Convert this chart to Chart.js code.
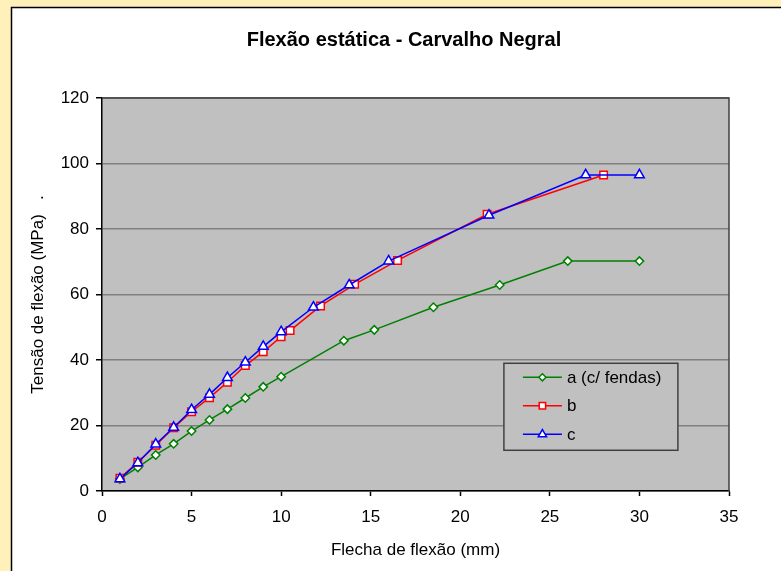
<!DOCTYPE html>
<html>
<head>
<meta charset="utf-8">
<script src="https://cdn.jsdelivr.net/npm/chart.js@4/dist/chart.umd.min.js"></script>
<style>
  html, body { margin: 0; padding: 0; background: #fff1b9; }
  #chart { display: block; }
</style>
</head>
<body>
<canvas id="chart" width="781" height="571"></canvas>
<script>
// ----------------------------------------------------------------------
//  Flexão estática - Carvalho Negral
// ----------------------------------------------------------------------
const titleText = "Flexão estática - Carvalho Negral"
const xTitle = "Flecha de flexão (mm)"
const yTitle = "Tensão de flexão (MPa)   ."

const seriesNames = ["a (c/ fendas)", "b", "c"]

const aX = [1, 2, 3, 4, 5, 6, 7, 8, 9, 10, 13.5, 15.2, 18.5, 22.2, 26, 30]
const aY = [3.7, 7.2, 11.0, 14.4, 18.3, 21.7, 25.0, 28.4, 31.8, 34.9, 45.9, 49.2, 56.1, 62.9, 70.2, 70.2]

const bX = [1, 2, 3, 4, 5, 6, 7, 8, 9, 10, 10.5, 12.2, 14.1, 16.5, 21.5, 28]
const bY = [3.9, 8.8, 14.0, 19.3, 24.2, 28.5, 33.2, 38.3, 42.5, 47.1, 49.0, 56.5, 63.1, 70.4, 84.5, 96.5]

const cX = [1, 2, 3, 4, 5, 6, 7, 8, 9, 10, 11.8, 13.8, 16, 21.6, 27, 30]
const cY = [3.7, 8.6, 14.3, 19.4, 24.8, 29.5, 34.6, 39.3, 44.1, 48.6, 56.1, 62.9, 70.2, 84.2, 96.5, 96.5]

const xMin = 0, xMax = 35, xStep = 5
const yMin = 0, yMax = 120, yStep = 20

// ----------------------------------------------------------------------
const FONT = "'Liberation Sans', Arial, sans-serif"

function pts (xs, ys)
{
    return xs.map((x, i) => ({x: x, y: ys[i]}))
}

function series (label, xs, ys, color, style, radius, order)
{
    return {
        label: label,
        data: pts(xs, ys),
        order: order,
        showLine: true,
        borderColor: color,
        borderWidth: 1.5,
        tension: 0,
        pointStyle: style,
        pointRadius: radius,
        pointHoverRadius: radius,
        pointBackgroundColor: "#ffffff",
        pointBorderColor: color,
        pointBorderWidth: 1.5
        }
}

const frame = {
    id: "frame",
    beforeDraw (chart)
    {
        const ctx = chart.ctx
        const a = chart.chartArea
        ctx.save()
        ctx.fillStyle = "#fff1b9"
        ctx.fillRect(0, 0, chart.width, chart.height)
        ctx.fillStyle = "#ffffff"
        ctx.fillRect(11, 7, chart.width, chart.height)
        ctx.strokeStyle = "#000000"
        ctx.lineWidth = 1.5
        ctx.beginPath()
        ctx.moveTo(11.5, chart.height)
        ctx.lineTo(11.5, 7.5)
        ctx.lineTo(chart.width, 7.5)
        ctx.stroke()
        ctx.fillStyle = "#c0c0c0"
        ctx.fillRect(a.left, a.top, a.right - a.left, a.bottom - a.top)
        ctx.fillStyle = "#000000"
        ctx.font = "bold 20px " + FONT
        ctx.textAlign = "center"
        ctx.textBaseline = "middle"
        ctx.fillText(titleText, 404, 40)
        ctx.restore()
    },
    afterDraw (chart)
    {
        const ctx = chart.ctx
        const a = chart.chartArea
        ctx.save()
        ctx.strokeStyle = "#404040"
        ctx.lineWidth = 1.5
        ctx.beginPath()
        ctx.moveTo(a.left, a.top)
        ctx.lineTo(a.right, a.top)
        ctx.lineTo(a.right, a.bottom)
        ctx.stroke()

        // legend box
        const w = a.right - a.left, h = a.bottom - a.top
        const lx = a.left + w * 0.641, ly = a.top + h * 0.675
        const lw = 174, lh = 87
        ctx.fillStyle = "#c0c0c0"
        ctx.fillRect(lx, ly, lw, lh)
        ctx.strokeStyle = "#404040"
        ctx.lineWidth = 1.5
        ctx.strokeRect(lx, ly, lw, lh)
        ctx.font = "17px " + FONT
        ctx.textAlign = "left"
        ctx.textBaseline = "middle"
        chart.data.datasets.forEach((ds, i) => {
            const y = ly + 14 + i * 28.5
            ctx.strokeStyle = ds.borderColor
            ctx.lineWidth = 1.5
            ctx.beginPath()
            ctx.moveTo(lx + 19, y)
            ctx.lineTo(lx + 58, y)
            ctx.stroke()
            ctx.fillStyle = "#ffffff"
            ctx.strokeStyle = ds.pointBorderColor
            Chart.helpers.drawPoint(ctx, {pointStyle: ds.pointStyle, radius: ds.pointRadius * 0.85, borderWidth: 1.5}, lx + 38.5, y)
            ctx.fillStyle = "#000000"
            ctx.fillText(ds.label, lx + 63, y + 1)
        })
        ctx.restore()
    }
}

const config = {
    type: "scatter",
    data: {
        datasets: [
            series(seriesNames[0], aX, aY, "#008000", "rectRot", 4.2, 3),
            series(seriesNames[1], bX, bY, "#ff0000", "rect", 5.3, 2),
            series(seriesNames[2], cX, cY, "#0000ff", "triangle", 5.6, 1)
        ]
    },
    options: {
        responsive: false,
        animation: false,
        layout: { padding: {top: 98, left: 12, right: 52, bottom: 0} },
        plugins: {
            legend: { display: false },
            title: { display: false },
            tooltip: { enabled: false }
        },
        scales: {
            x: {
                type: "linear",
                min: xMin, max: xMax,
                afterFit: (s) => { s.height = 80 },
                ticks: { stepSize: xStep, color: "#000", padding: 11, font: {family: FONT, size: 17} },
                grid: { drawOnChartArea: false, drawTicks: true, tickLength: 5, tickColor: "#000", tickWidth: 1.5 },
                border: { color: "#000", width: 1.5 },
                title: { display: true, text: xTitle, color: "#000", font: {family: FONT, size: 17}, padding: {top: 0, bottom: 10} }
            },
            y: {
                type: "linear",
                min: yMin, max: yMax,
                afterFit: (s) => { s.width = 90 },
                ticks: { stepSize: yStep, color: "#000", padding: 7, font: {family: FONT, size: 17} },
                grid: { color: "#808080", lineWidth: 1.5, tickLength: 6, tickColor: "#000", tickWidth: 1.5 },
                border: { color: "#000", width: 1.5 },
                title: { display: true, text: yTitle, color: "#000", font: {family: FONT, size: 17}, padding: {top: 16, bottom: 0} }
            }
        }
    },
    plugins: [frame]
}

const chart = new Chart(document.getElementById("chart"), config)
</script>
</body>
</html>
